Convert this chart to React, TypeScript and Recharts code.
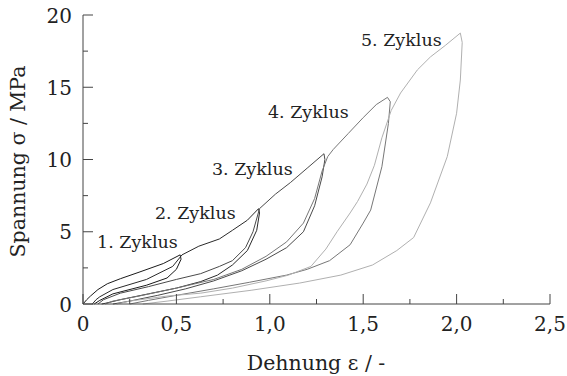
import { LineChart, Line, XAxis, YAxis, ReferenceDot } from 'recharts';

// [Dehnung, Spannung] pairs, loading then unloading for every cycle
const cycle1 = [
  [0, 0], [0.02, 0.3], [0.04, 0.55], [0.08, 1.0], [0.13, 1.4], [0.2, 1.75], [0.3, 2.2], [0.43, 2.8], [0.52, 3.4],
  [0.525, 3.1], [0.5, 2.4], [0.45, 1.8], [0.34, 1.3], [0.16, 0.7], [0.09, 0.25], [0.06, 0],
];
const cycle2 = [
  [0.05, 0], [0.07, 0.3], [0.09, 0.5], [0.16, 1.0], [0.34, 1.7], [0.48, 2.6], [0.53, 3.4], [0.62, 4.0], [0.73, 4.5],
  [0.8, 5.1], [0.88, 5.8], [0.94, 6.6],
  [0.945, 6.3], [0.93, 5.1], [0.88, 3.7], [0.8, 2.7], [0.72, 2.0], [0.63, 1.55], [0.5, 1.1], [0.35, 0.7], [0.2, 0.3],
  [0.12, 0.05], [0.1, 0],
];
const cycle3 = [
  [0.08, 0], [0.11, 0.3], [0.2, 0.75], [0.35, 1.2], [0.5, 1.7], [0.63, 2.1], [0.73, 2.6], [0.8, 3.0], [0.87, 3.9],
  [0.91, 5.0], [0.945, 6.6], [1.03, 7.6], [1.11, 8.4], [1.2, 9.4], [1.29, 10.4],
  [1.295, 10.0], [1.28, 8.8], [1.24, 6.8], [1.18, 5.0], [1.09, 3.9], [0.98, 3.1], [0.85, 2.3], [0.7, 1.6],
  [0.55, 1.05], [0.4, 0.6], [0.25, 0.2], [0.16, 0],
];
const cycle4 = [
  [0.12, 0], [0.16, 0.2], [0.3, 0.55], [0.5, 1.1], [0.7, 1.7], [0.85, 2.4], [0.98, 3.3], [1.09, 4.3], [1.18, 5.6],
  [1.24, 7.3], [1.28, 9.2], [1.31, 10.2], [1.34, 10.7], [1.42, 11.8], [1.5, 12.9], [1.57, 13.8], [1.63, 14.3],
  [1.645, 14.0], [1.635, 12.5], [1.6, 9.5], [1.54, 6.5], [1.5, 5.6], [1.43, 4.1], [1.32, 3.0], [1.2, 2.4],
  [1.09, 2.0], [0.89, 1.5], [0.7, 1.05], [0.5, 0.6], [0.35, 0.25], [0.25, 0],
];
const cycle5 = [
  [0.18, 0], [0.25, 0.2], [0.45, 0.55], [0.63, 0.75], [0.8, 1.1], [0.98, 1.6], [1.1, 2.0], [1.22, 2.6], [1.3, 3.8],
  [1.36, 5.0], [1.43, 6.3], [1.47, 7.1], [1.52, 8.3], [1.56, 9.6], [1.6, 11.5], [1.65, 13.4], [1.7, 14.6],
  [1.79, 16.2], [1.86, 17.1], [1.94, 17.9], [2.02, 18.75],
  [2.03, 18.1], [2.02, 15.5], [2.0, 13.2], [1.95, 10.2], [1.86, 7.0], [1.77, 4.6], [1.68, 3.7], [1.55, 2.7],
  [1.38, 2.0], [1.16, 1.45], [0.9, 0.95], [0.63, 0.5], [0.45, 0.2], [0.32, 0],
];

const cycles = [cycle1, cycle2, cycle3, cycle4, cycle5];
const cycleColors = ['#1a1a1a', '#2a2a2a', '#4a4a4a', '#777777', '#b0b0b0'];

const cycleNames = ['1. Zyklus', '2. Zyklus', '3. Zyklus', '4. Zyklus', '5. Zyklus'];
const nameX = [0.075, 0.385, 0.69, 0.99, 1.488];
const nameY = [4.3, 6.35, 9.4, 13.3, 18.3];

const xTicks = [0, 0.25, 0.5, 0.75, 1, 1.25, 1.5, 1.75, 2, 2.25, 2.5];
const yTicks = [0, 2.5, 5, 7.5, 10, 12.5, 15, 17.5, 20];

const txt = { fontFamily: '"DejaVu Serif", serif', fill: '#222' };
const frame = '#444';

const isMajorX = (v: number) => Math.abs(v * 2 - Math.round(v * 2)) < 1e-6;
const isMajorY = (v: number) => v % 5 === 0;
const fmtX = (v: number) => (v === 0 ? '0' : v.toFixed(1).replace('.', ','));

const BottomTick = (props: any) => {
  const { x, y, payload } = props;
  const major = isMajorX(payload.value);
  return (
    <g>
      <line x1={x} x2={x} y1={y} y2={y - (major ? 10 : 5)} stroke={frame} />
      {major && (
        <text x={x} y={y + 27} textAnchor="middle" style={{ ...txt, fontSize: 20 }}>
          {fmtX(payload.value)}
        </text>
      )}
    </g>
  );
};

const TopTick = (props: any) => {
  const { x, y, payload } = props;
  const major = isMajorX(payload.value);
  return <line x1={x} x2={x} y1={y} y2={y + (major ? 10 : 5)} stroke={frame} />;
};

const LeftTick = (props: any) => {
  const { x, y, payload } = props;
  const major = isMajorY(payload.value);
  return (
    <g>
      <line x1={x} x2={x + (major ? 10 : 5)} y1={y} y2={y} stroke={frame} />
      {major && (
        <text x={x - 11} y={y + 7.5} textAnchor="end" style={{ ...txt, fontSize: 20 }}>
          {payload.value}
        </text>
      )}
    </g>
  );
};

const RightTick = (props: any) => {
  const { x, y, payload } = props;
  const major = isMajorY(payload.value);
  return <line x1={x} x2={x - (major ? 10 : 5)} y1={y} y2={y} stroke={frame} />;
};

export default function App() {
  return (
    <div style={{ position: 'absolute', left: 0, top: 0, width: 567, height: 376, background: '#fff' }}>
      <LineChart width={567} height={376} margin={{ top: 15, right: 17, bottom: 0, left: 0 }}>
        <XAxis
          xAxisId="b"
          dataKey="x"
          type="number"
          domain={[0, 2.5]}
          ticks={xTicks}
          interval={0}
          height={72}
          tickSize={0}
          tickMargin={0}
          tickLine={false}
          axisLine={{ stroke: frame }}
          tick={<BottomTick />}
          label={{
            content: () => (
              <text x={316} y={370} textAnchor="middle" style={{ ...txt, fontSize: 20.5 }}>
                Dehnung ε / -
              </text>
            ),
          }}
        />
        <XAxis
          xAxisId="t"
          orientation="top"
          dataKey="x"
          type="number"
          domain={[0, 2.5]}
          ticks={xTicks}
          interval={0}
          height={0}
          tickSize={0}
          tickMargin={0}
          tickLine={false}
          axisLine={{ stroke: frame }}
          tick={<TopTick />}
        />
        <YAxis
          yAxisId="l"
          type="number"
          domain={[0, 20]}
          ticks={yTicks}
          interval={0}
          width={83}
          tickSize={0}
          tickMargin={0}
          tickLine={false}
          axisLine={{ stroke: frame }}
          tick={<LeftTick />}
          label={{
            content: (p: any) => (
              <text
                transform={`translate(25, ${p.viewBox.y + p.viewBox.height / 2 + 2}) rotate(-90)`}
                textAnchor="middle"
                style={{ ...txt, fontSize: 20.5 }}
              >
                Spannung σ / MPa
              </text>
            ),
          }}
        />
        <YAxis
          yAxisId="r"
          orientation="right"
          type="number"
          domain={[0, 20]}
          ticks={yTicks}
          interval={0}
          width={0}
          tickSize={0}
          tickMargin={0}
          tickLine={false}
          axisLine={{ stroke: frame }}
          tick={<RightTick />}
        />
        {cycles.map((c, i) => (
          <Line
            key={i}
            xAxisId="b"
            yAxisId="l"
            data={c.map(([x, y]) => ({ x, y }))}
            dataKey="y"
            type="linear"
            stroke={cycleColors[i]}
            strokeWidth={1}
            dot={false}
            activeDot={false}
            isAnimationActive={false}
          />
        ))}
        {cycleNames.map((n, i) => (
          <ReferenceDot
            key={n}
            xAxisId="b"
            yAxisId="l"
            x={nameX[i]}
            y={nameY[i]}
            r={0}
            shape={(p: any) => (
              <text x={p.cx} y={p.cy + 6.5} style={{ ...txt, fontSize: 17.5 }}>
                {n}
              </text>
            )}
          />
        ))}
      </LineChart>
    </div>
  );
}
